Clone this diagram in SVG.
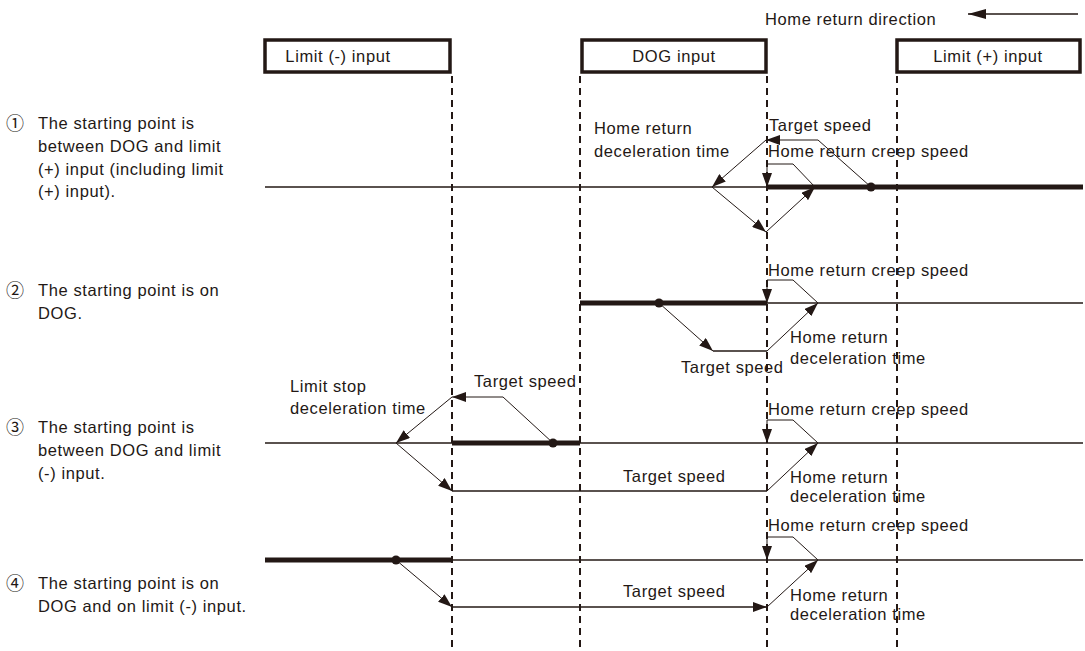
<svg xmlns="http://www.w3.org/2000/svg" width="1085" height="651" viewBox="0 0 1085 651">
  <style>
    text { font-family: "Liberation Sans", "DejaVu Sans", "Noto Sans CJK JP", sans-serif; font-size: 16.5px; fill: #231815; letter-spacing: 0.6px; }
    .num { font-family: "Noto Sans CJK JP", "DejaVu Sans", sans-serif; font-size: 18px; letter-spacing: 0; }
    .mid { text-anchor: middle; }
    .box { fill: #ffffff; stroke: #231815; stroke-width: 3.5; }
    .guide { stroke: #231815; stroke-width: 2; stroke-dasharray: 7 5; fill: none; }
    .axis { stroke: #231815; stroke-width: 1.6; fill: none; }
    .held { stroke: #231815; stroke-width: 5; fill: none; }
    .move { stroke: #231815; stroke-width: 1; fill: none; marker-end: url(#tip); }
    .flat { stroke: #231815; stroke-width: 1.6; fill: none; }
    .start { fill: #231815; }
  </style>
  <defs>
    <marker id="tip" viewBox="0 0 14 10" refX="14" refY="5" markerWidth="14" markerHeight="10" markerUnits="userSpaceOnUse" orient="auto">
      <path d="M0,0 L14,5 L0,10 Z" fill="#231815"/>
    </marker>
    <marker id="wide-tip" viewBox="0 0 18 10" refX="18" refY="5" markerWidth="18" markerHeight="10" markerUnits="userSpaceOnUse" orient="auto">
      <path d="M0,0 L18,5 L0,10 Z" fill="#231815"/>
    </marker>
  </defs>

  <rect width="1085" height="651" fill="#ffffff"/>

  <!-- direction legend -->
  <g id="direction">
    <text x="765" y="25">Home return direction</text>
    <path d="M1078,14 L968,14" stroke="#231815" stroke-width="1.6" fill="none" marker-end="url(#wide-tip)"/>
  </g>

  <!-- input sensor headers -->
  <g id="limit-minus">
    <rect class="box" x="265" y="40" width="185" height="32"/>
    <text class="mid" x="338" y="62">Limit (-) input</text>
  </g>
  <g id="dog">
    <rect class="box" x="582" y="40" width="184" height="32"/>
    <text class="mid" x="674" y="62">DOG input</text>
  </g>
  <g id="limit-plus">
    <rect class="box" x="897" y="40" width="183" height="32"/>
    <text class="mid" x="988" y="62">Limit (+) input</text>
  </g>

  <!-- signal edge guides -->
  <g id="guides">
    <line class="guide" x1="452" y1="76" x2="452" y2="651"/>
    <line class="guide" x1="580" y1="76" x2="580" y2="651"/>
    <line class="guide" x1="767" y1="76" x2="767" y2="651"/>
    <line class="guide" x1="897" y1="76" x2="897" y2="651"/>
  </g>

  <!-- case labels -->
  <g id="case1-label">
    <text class="num" x="6" y="130">①</text>
    <text x="38" y="129">The starting point is</text>
    <text x="38" y="152">between DOG and limit</text>
    <text x="38" y="175">(+) input (including limit</text>
    <text x="38" y="197">(+) input).</text>
  </g>
  <g id="case2-label">
    <text class="num" x="6" y="297">②</text>
    <text x="38" y="296">The starting point is on</text>
    <text x="38" y="319">DOG.</text>
  </g>
  <g id="case3-label">
    <text class="num" x="6" y="434">③</text>
    <text x="38" y="433">The starting point is</text>
    <text x="38" y="456">between DOG and limit</text>
    <text x="38" y="479">(-) input.</text>
  </g>
  <g id="case4-label">
    <text class="num" x="6" y="590">④</text>
    <text x="38" y="589">The starting point is on</text>
    <text x="38" y="612">DOG and on limit (-) input.</text>
  </g>

  <!-- position axes -->
  <g id="axes">
    <line class="axis" x1="265" y1="187" x2="1083" y2="187"/>
    <line class="held" x1="767" y1="187" x2="1083" y2="187"/>
    <line class="axis" x1="580" y1="303" x2="1083" y2="303"/>
    <line class="held" x1="580" y1="303" x2="767" y2="303"/>
    <line class="axis" x1="265" y1="443" x2="1083" y2="443"/>
    <line class="held" x1="452" y1="443" x2="580" y2="443"/>
    <line class="axis" x1="265" y1="560" x2="1083" y2="560"/>
    <line class="held" x1="265" y1="560" x2="452" y2="560"/>
  </g>

  <!-- motion paths -->
  <g id="connectors">
    <!-- case 1 -->
    <path class="move" d="M871,187 L818,140 L766,140"/>
    <path class="move" d="M766,140 L712,187"/>
    <path class="move" d="M712,187 L766,232"/>
    <path class="move" d="M766,232 L815,187"/>
    <path class="move" d="M815,187 L793,164 L767,164 L767,187"/>
    <!-- case 2 -->
    <path class="move" d="M659,303 L713,351"/>
    <path class="flat" d="M713,351 L767,351"/>
    <path class="move" d="M767,351 L818,303"/>
    <path class="move" d="M818,303 L793,280 L767,280 L767,303"/>
    <!-- case 3 -->
    <path class="move" d="M553,443 L503,397 L452,397"/>
    <path class="move" d="M452,397 L396,443"/>
    <path class="move" d="M396,443 L452,491"/>
    <path class="flat" d="M452,491 L767,491"/>
    <path class="move" d="M767,491 L818,443"/>
    <path class="move" d="M818,443 L793,420 L767,420 L767,443"/>
    <!-- case 4 -->
    <path class="move" d="M396,560 L452,607"/>
    <path class="move" d="M452,607 L767,607" style="stroke-width:1.3"/>
    <path class="move" d="M767,607 L818,560"/>
    <path class="move" d="M818,560 L793,537 L767,537 L767,560"/>
  </g>

  <!-- starting points -->
  <g id="start-points">
    <circle class="start" cx="871" cy="187" r="4.5"/>
    <circle class="start" cx="659" cy="303" r="4.5"/>
    <circle class="start" cx="553" cy="443" r="4.5"/>
    <circle class="start" cx="396" cy="560" r="4.5"/>
  </g>

  <!-- speed and time annotations -->
  <g id="case1-notes">
    <text x="769" y="131">Target speed</text>
    <text x="768" y="157">Home return creep speed</text>
    <text x="594" y="134">Home return</text>
    <text x="594" y="157">deceleration time</text>
  </g>
  <g id="case2-notes">
    <text x="768" y="276">Home return creep speed</text>
    <text x="790" y="343">Home return</text>
    <text x="790" y="364">deceleration time</text>
    <text x="681" y="373">Target speed</text>
  </g>
  <g id="case3-notes">
    <text x="290" y="392">Limit stop</text>
    <text x="290" y="414">deceleration time</text>
    <text x="474" y="387">Target speed</text>
    <text x="768" y="415">Home return creep speed</text>
    <text x="623" y="482">Target speed</text>
    <text x="790" y="483">Home return</text>
    <text x="790" y="502">deceleration time</text>
  </g>
  <g id="case4-notes">
    <text x="768" y="531">Home return creep speed</text>
    <text x="623" y="597">Target speed</text>
    <text x="790" y="601">Home return</text>
    <text x="790" y="620">deceleration time</text>
  </g>
</svg>
